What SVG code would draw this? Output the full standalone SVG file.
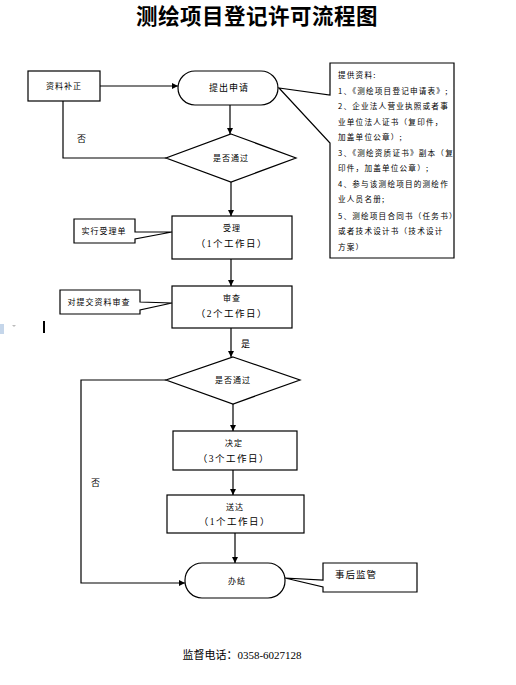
<svg xmlns="http://www.w3.org/2000/svg" width="516" height="685" viewBox="0 0 516 685">
<defs>
<marker id="arr" viewBox="0 0 10 10" refX="10" refY="5" markerWidth="6" markerHeight="6" orient="auto" markerUnits="userSpaceOnUse">
<path d="M0,0 L10,5 L0,10 Z" fill="#000"/>
</marker>
<style>
.box{fill:#fff;stroke:#000;stroke-width:1.2}
.ln{fill:none;stroke:#000;stroke-width:1.2}
.t{font-family:"Noto Sans CJK SC","Liberation Sans",sans-serif;font-size:8px;letter-spacing:1px;fill:#000;text-anchor:middle}
.m{font-family:"Liberation Serif","Noto Sans CJK SC",serif;font-size:9.5px;letter-spacing:1.5px;fill:#000;text-anchor:middle}
.n{font-family:"Noto Sans CJK SC","Liberation Sans",sans-serif;font-size:7.6px;letter-spacing:1.2px;fill:#000}
</style>
</defs>
<rect width="516" height="685" fill="#fff"/>
<text x="257" y="24" font-family="'Noto Sans CJK SC','Liberation Sans',sans-serif" font-weight="bold" font-size="21.5" letter-spacing="0.5" text-anchor="middle">测绘项目登记许可流程图</text>

<g id="connectors">
<line class="ln" x1="100" y1="86" x2="178" y2="86" marker-end="url(#arr)"/>
<line class="ln" x1="230" y1="105" x2="230" y2="134" marker-end="url(#arr)"/>
<polyline class="ln" points="166,158 63,158 63,101"/>
<line class="ln" x1="231" y1="182" x2="231" y2="216" marker-end="url(#arr)"/>
<line class="ln" x1="231" y1="259" x2="231" y2="286" marker-end="url(#arr)"/>
<line class="ln" x1="231" y1="328" x2="231" y2="357" marker-end="url(#arr)"/>
<line class="ln" x1="233" y1="404" x2="233" y2="431" marker-end="url(#arr)"/>
<line class="ln" x1="233" y1="470" x2="233" y2="495" marker-end="url(#arr)"/>
<line class="ln" x1="235" y1="533" x2="235" y2="563" marker-end="url(#arr)"/>
<polyline class="ln" points="166,380 81,380 81,583 185,583" marker-end="url(#arr)"/>
<text x="82" y="142" class="t" style="font-size:9px">否</text>
<text x="246" y="347" class="t" style="font-size:9px">是</text>
<text x="96" y="486" class="t" style="font-size:9px">否</text>
</g>

<g id="n-buzheng">
<rect class="box" x="28" y="71" width="72" height="30"/>
<text class="t" x="64" y="89">资料补正</text>
</g>

<g id="n-tichu">
<rect class="box" x="178" y="71" width="100" height="34" rx="17"/>
<text class="t" x="229" y="91" style="font-size:9px">提出申请</text>
</g>

<g id="n-ziliao">
<path class="box" d="M330,63 H454 V258 H330 V143 L279,88 L330,95 Z"/>
<text class="n" x="338" y="78">提供资料:</text>
<text class="n" x="338" y="94">1、《测绘项目登记申请表》;</text>
<text class="n" x="338" y="109">2、企业法人营业执照或者事</text>
<text class="n" x="338" y="125">业单位法人证书（复印件，</text>
<text class="n" x="338" y="140">加盖单位公章）;</text>
<text class="n" x="338" y="156">3、《测绘资质证书》副本（复</text>
<text class="n" x="338" y="171">印件，加盖单位公章）;</text>
<text class="n" x="338" y="187">4、参与该测绘项目的测绘作</text>
<text class="n" x="338" y="202">业人员名册;</text>
<text class="n" x="338" y="219">5、测绘项目合同书（任务书）</text>
<text class="n" x="338" y="234">或者技术设计书（技术设计</text>
<text class="n" x="338" y="250">方案）</text>
</g>

<g id="n-pd1">
<polygon class="box" points="231,134 296,158 231,182 166,158"/>
<text class="t" x="231" y="161">是否通过</text>
</g>

<g id="n-shouli">
<rect class="box" x="172" y="216" width="120" height="43"/>
<text class="t" x="232" y="231">受理</text>
<text class="m" x="232" y="247">（1个工作日）</text>
</g>

<g id="n-shoulidan">
<path class="box" d="M74,219 H135 V232 L172,232 L135,239 V243 H74 Z"/>
<text class="t" x="104" y="234">实行受理单</text>
</g>

<g id="n-shencha">
<rect class="box" x="172" y="286" width="120" height="42"/>
<text class="t" x="232" y="301">审查</text>
<text class="m" x="232" y="317">（2个工作日）</text>
</g>

<g id="n-duitijiao">
<path class="box" d="M60,290 H140 V302 L172,303 L140,310 V314 H60 Z"/>
<text class="t" x="99" y="305">对提交资料审查</text>
</g>

<g id="n-pd2">
<polygon class="box" points="233,357 300,380 233,404 166,380"/>
<text class="t" x="233" y="383">是否通过</text>
</g>

<g id="n-jueding">
<rect class="box" x="173" y="431" width="124" height="39"/>
<text class="t" x="234" y="446">决定</text>
<text class="m" x="234" y="462">（3个工作日）</text>
</g>

<g id="n-songda">
<rect class="box" x="167" y="495" width="137" height="38"/>
<text class="t" x="235" y="510">送达</text>
<text class="m" x="235" y="525">（1个工作日）</text>
</g>

<g id="n-banjie">
<rect class="box" x="185" y="563" width="100" height="35" rx="17"/>
<text class="t" x="237" y="584">办结</text>
</g>

<g id="n-shihou">
<path class="box" d="M323,563 H417 V592 H323 V587 L285,578 L323,580 Z"/>
<text class="t" x="356" y="578" style="font-size:9.5px">事后监管</text>
</g>

<text x="242" y="659" font-family="'Liberation Serif','Noto Sans CJK SC',serif" font-size="11" text-anchor="middle">监督电话：0358-6027128</text>

<rect x="43" y="321" width="2" height="12" fill="#000"/>
<rect x="0" y="324" width="4" height="10" fill="#c5d6ea"/>
<path d="M12,325 L16,325 L14,327 Z" fill="#bbb"/>
</svg>
